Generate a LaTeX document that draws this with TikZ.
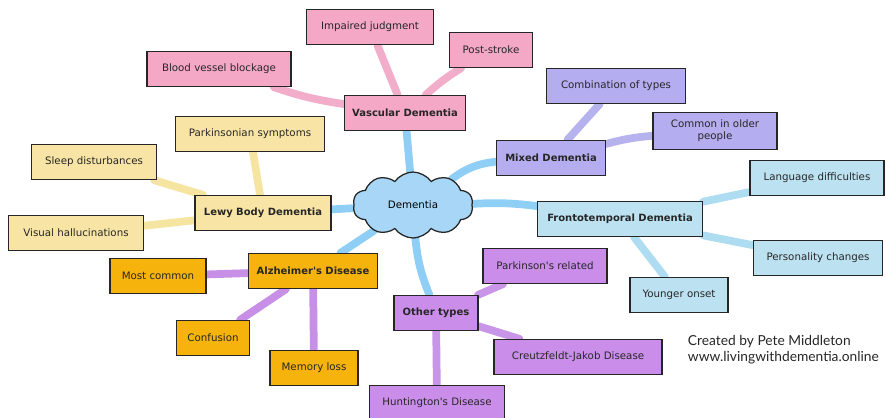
\documentclass[tikz,border=0pt]{standalone}
\usepackage{fontspec}
\setmainfont{DejaVu Sans}
\newfontfamily\creditfont{Lato}
\usetikzlibrary{shapes.symbols,backgrounds}

\definecolor{pinkbox}{HTML}{F4A8C6}
\definecolor{pinkline}{HTML}{F2ADCB}
\definecolor{yellowbox}{HTML}{F8E5A5}
\definecolor{yellowline}{HTML}{F5E5A0}
\definecolor{orangebox}{HTML}{F6B30C}
\definecolor{alzline}{HTML}{C78FE6}
\definecolor{otherbox}{HTML}{CA8EEA}
\definecolor{otherline}{HTML}{C895E8}
\definecolor{mixedbox}{HTML}{B4AEF0}
\definecolor{mixedline}{HTML}{B6B2EE}
\definecolor{frontbox}{HTML}{BCE2F2}
\definecolor{frontline}{HTML}{AEDCF0}
\definecolor{cloudfill}{HTML}{A8D6F6}
\definecolor{hubline}{HTML}{8FCEF5}

\begin{document}
\begin{tikzpicture}[x=0.025cm, y=-0.025cm,
    box/.style={draw=black!85, line width=0.9pt, minimum height=0.875cm, inner xsep=3pt,
        font=\fontsize{7.3}{8.7}\selectfont, text=black!85},
    topic/.style={box, font=\fontsize{7.1}{8.5}\selectfont\bfseries},
    wd/.style={minimum width=#1*0.025cm},
    link/.style={line width=5.5pt, line cap=round}]
    \clip (0,0) rectangle (886,417);

    % centre
    \node[cloud, cloud puffs=10, cloud puff arc=110, cloud ignores aspect, draw=black!85, line width=0.9pt, fill=cloudfill,
        minimum width=3.0cm, minimum height=1.65cm, font=\fontsize{7.3}{8.7}\selectfont] (dementia) at (413,205) {Dementia};

    % main topics
    \node[topic, fill=pinkbox, wd=121] (vascular) at (405,113) {Vascular Dementia};
    \node[topic, fill=yellowbox, wd=136] (lewy) at (263,213) {Lewy Body Dementia};
    \node[topic, fill=orangebox, wd=129] (alz) at (313,271) {Alzheimer\textquotesingle s Disease};
    \node[topic, fill=otherbox, wd=84] (other) at (436,313) {Other types};
    \node[topic, fill=mixedbox, wd=109] (mixed) at (551,158) {Mixed Dementia};
    \node[topic, fill=frontbox, wd=165] (fronto) at (620,219) {Frontotemporal Dementia};

    % vascular
    \node[box, fill=pinkbox, wd=127] (judgment) at (370,27) {Impaired judgment};
    \node[box, fill=pinkbox, wd=83] (stroke) at (491,50) {Post-stroke};
    \node[box, fill=pinkbox, wd=144] (blockage) at (219,69) {Blood vessel blockage};

    % lewy body
    \node[box, fill=yellowbox, wd=149] (parkinsonian) at (250,134) {Parkinsonian symptoms};
    \node[box, fill=yellowbox, wd=125] (sleep) at (94,162) {Sleep disturbances};
    \node[box, fill=yellowbox, wd=135] (visual) at (76,233) {Visual hallucinations};

    % alzheimer
    \node[box, fill=orangebox, wd=96] (common) at (158,276) {Most common};
    \node[box, fill=orangebox, wd=73] (confusion) at (213,338) {Confusion};
    \node[box, fill=orangebox, wd=88] (memory) at (314,368) {Memory loss};

    % other types
    \node[box, fill=otherbox, wd=124] (parkrel) at (545,266) {Parkinson\textquotesingle s related};
    \node[box, fill=otherbox, wd=168] (cjd) at (578,357) {Creutzfeldt-Jakob Disease};
    \node[box, fill=otherbox, wd=135] (huntington) at (437,403) {Huntington\textquotesingle s Disease};

    % mixed
    \node[box, fill=mixedbox, wd=139] (combination) at (616,86) {Combination of types};
    \node[box, fill=mixedbox, wd=124, minimum height=0.925cm, align=center] (older) at (715,131) {Common in older\\people};

    % frontotemporal
    \node[box, fill=frontbox, wd=134] (language) at (817,178) {Language difficulties};
    \node[box, fill=frontbox, wd=129] (personality) at (818,258) {Personality changes};
    \node[box, fill=frontbox, wd=98] (younger) at (679,295) {Younger onset};

    \node[anchor=north west, align=left, font=\creditfont\fontsize{9.8}{11.5}\selectfont, text=black!85] (credit) at (683,330)
        {Created by Pete Middleton\\www.livingwithdementia.online};

    \begin{scope}[on background layer]
        \draw[link, hubline] (dementia) -- (vascular);
        \draw[link, hubline] (dementia) to[bend left=15] (mixed);
        \draw[link, hubline] (dementia) to[bend left=5] (fronto);
        \draw[link, hubline] (dementia) to[bend right=8] (other);
        \draw[link, hubline] (dementia) -- (alz);
        \draw[link, hubline] (dementia) -- (lewy);

        \draw[link, pinkline] (vascular) -- (judgment);
        \draw[link, pinkline] (vascular) to[bend left=5] (stroke);
        \draw[link, pinkline] (vascular) to[bend left=5] (blockage);

        \draw[link, yellowline] (lewy) -- (parkinsonian);
        \draw[link, yellowline] (lewy) -- (sleep);
        \draw[link, yellowline] (lewy) -- (visual);

        \draw[link, alzline] (alz) -- (common);
        \draw[link, alzline] (alz) -- (confusion);
        \draw[link, alzline] (alz) -- (memory);

        \draw[link, otherline] (other) -- (parkrel);
        \draw[link, otherline] (other) -- (cjd);
        \draw[link, otherline] (other) -- (huntington);

        \draw[link, mixedline] (mixed) -- (combination);
        \draw[link, mixedline] (mixed) to[bend left=5] (older);

        \draw[link, frontline] (fronto) -- (language);
        \draw[link, frontline] (fronto) -- (personality);
        \draw[link, frontline] (fronto) -- (younger);
    \end{scope}
\end{tikzpicture}
\end{document}
